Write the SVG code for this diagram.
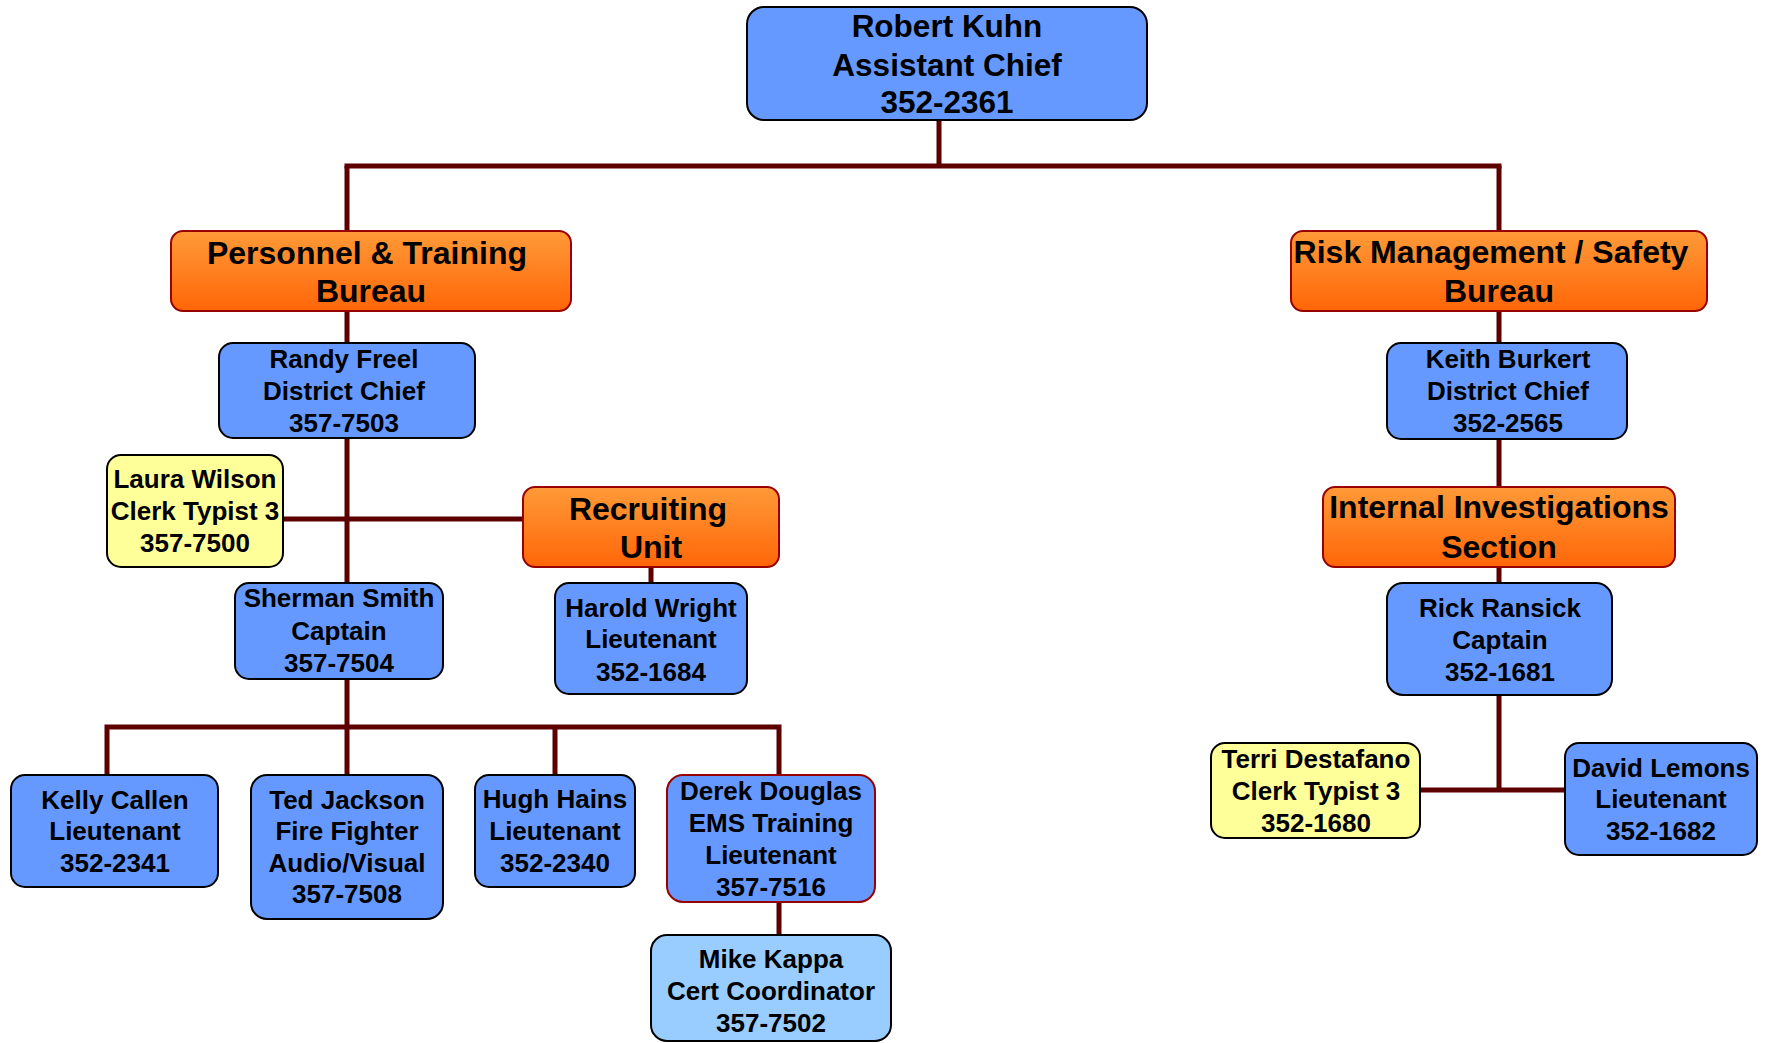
<svg xmlns="http://www.w3.org/2000/svg" width="1768" height="1043" viewBox="0 0 1768 1043">
<defs>
<linearGradient id="og" x1="0" y1="0" x2="0" y2="1">
<stop offset="0" stop-color="#ff9a38"/>
<stop offset="1" stop-color="#ff6608"/>
</linearGradient>
<style>
text{font-family:"Liberation Sans",Arial,sans-serif;font-weight:bold;fill:#000;text-anchor:middle}
.p{font-size:26px}
.b{font-size:32px}
.blue{fill:#6699ff;stroke:#000;stroke-width:2}
.yel{fill:#ffff99;stroke:#000;stroke-width:2}
.lb{fill:#99ccff;stroke:#000;stroke-width:2}
.red{fill:#6699ff;stroke:#990000;stroke-width:2}
.or{fill:url(#og);stroke:#990000;stroke-width:2}
.c{stroke:#5c0000;stroke-width:5;fill:none}
</style>
</defs>
<rect width="1768" height="1043" fill="#fff"/>
<g id="connectors" class="c">
<line x1="939" y1="120" x2="939" y2="166"/>
<line x1="344.5" y1="166" x2="1501.5" y2="166"/>
<line x1="347" y1="166" x2="347" y2="231"/>
<line x1="347" y1="311" x2="347" y2="343"/>
<line x1="347" y1="438" x2="347" y2="583"/>
<line x1="283" y1="519" x2="523" y2="519"/>
<line x1="651" y1="567" x2="651" y2="583"/>
<line x1="347" y1="679" x2="347" y2="727"/>
<polyline points="107,775 107,727 779,727 779,775"/>
<line x1="347" y1="727" x2="347" y2="775"/>
<line x1="555" y1="727" x2="555" y2="775"/>
<line x1="779" y1="902" x2="779" y2="935"/>
<line x1="1499" y1="166" x2="1499" y2="231"/>
<line x1="1499" y1="311" x2="1499" y2="343"/>
<line x1="1499" y1="439" x2="1499" y2="487"/>
<line x1="1499" y1="567" x2="1499" y2="583"/>
<line x1="1499" y1="695" x2="1499" y2="790"/>
<line x1="1420" y1="790" x2="1565" y2="790"/>
</g>
<g id="robert-kuhn">
<rect class="blue" x="747" y="7" width="400" height="113" rx="17"/>
<text style="font-size:31.5px"><tspan x="947" y="37">Robert Kuhn</tspan><tspan x="947" y="76">Assistant Chief</tspan><tspan x="947" y="113">352-2361</tspan></text>
</g>
<g id="personnel-training-bureau">
<rect class="or" x="171" y="231" width="400" height="80" rx="12"/>
<text class="b"><tspan x="367" y="264">Personnel &amp; Training</tspan><tspan x="371" y="302">Bureau</tspan></text>
</g>
<g id="risk-management-bureau">
<rect class="or" x="1291" y="231" width="416" height="80" rx="12"/>
<text class="b"><tspan x="1491" y="263">Risk Management / Safety</tspan><tspan x="1499" y="302">Bureau</tspan></text>
</g>
<g id="randy-freel">
<rect class="blue" x="219" y="343" width="256" height="95" rx="14"/>
<text class="p"><tspan x="344" y="368">Randy Freel</tspan><tspan x="344" y="400">District Chief</tspan><tspan x="344" y="432">357-7503</tspan></text>
</g>
<g id="keith-burkert">
<rect class="blue" x="1387" y="343" width="240" height="96" rx="14"/>
<text class="p"><tspan x="1508" y="368">Keith Burkert</tspan><tspan x="1508" y="400">District Chief</tspan><tspan x="1508" y="432">352-2565</tspan></text>
</g>
<g id="laura-wilson">
<rect class="yel" x="107" y="455" width="176" height="112" rx="14"/>
<text class="p"><tspan x="195" y="488">Laura Wilson</tspan><tspan x="195" y="520">Clerk Typist 3</tspan><tspan x="195" y="552">357-7500</tspan></text>
</g>
<g id="recruiting-unit">
<rect class="or" x="523" y="487" width="256" height="80" rx="12"/>
<text class="b"><tspan x="648" y="520">Recruiting</tspan><tspan x="651" y="558">Unit</tspan></text>
</g>
<g id="internal-investigations">
<rect class="or" x="1323" y="487" width="352" height="80" rx="12"/>
<text class="b"><tspan x="1499" y="518">Internal Investigations</tspan><tspan x="1499" y="558">Section</tspan></text>
</g>
<g id="sherman-smith">
<rect class="blue" x="235" y="583" width="208" height="96" rx="14"/>
<text class="p"><tspan x="339" y="607">Sherman Smith</tspan><tspan x="339" y="640">Captain</tspan><tspan x="339" y="672">357-7504</tspan></text>
</g>
<g id="harold-wright">
<rect class="blue" x="555" y="583" width="192" height="111" rx="14"/>
<text class="p"><tspan x="651" y="617">Harold Wright</tspan><tspan x="651" y="648">Lieutenant</tspan><tspan x="651" y="681">352-1684</tspan></text>
</g>
<g id="rick-ransick">
<rect class="blue" x="1387" y="583" width="225" height="112" rx="16"/>
<text class="p"><tspan x="1500" y="617">Rick Ransick</tspan><tspan x="1500" y="649">Captain</tspan><tspan x="1500" y="681">352-1681</tspan></text>
</g>
<g id="kelly-callen">
<rect class="blue" x="11" y="775" width="207" height="112" rx="14"/>
<text class="p"><tspan x="115" y="809">Kelly Callen</tspan><tspan x="115" y="840">Lieutenant</tspan><tspan x="115" y="872">352-2341</tspan></text>
</g>
<g id="ted-jackson">
<rect class="blue" x="251" y="775" width="192" height="144" rx="16"/>
<text class="p"><tspan x="347" y="809">Ted Jackson</tspan><tspan x="347" y="840">Fire Fighter</tspan><tspan x="347" y="872">Audio/Visual</tspan><tspan x="347" y="903">357-7508</tspan></text>
</g>
<g id="hugh-hains">
<rect class="blue" x="475" y="775" width="160" height="112" rx="14"/>
<text class="p"><tspan x="555" y="808">Hugh Hains</tspan><tspan x="555" y="840">Lieutenant</tspan><tspan x="555" y="872">352-2340</tspan></text>
</g>
<g id="derek-douglas">
<rect class="red" x="667" y="775" width="208" height="127" rx="16"/>
<text class="p"><tspan x="771" y="800">Derek Douglas</tspan><tspan x="771" y="832">EMS Training</tspan><tspan x="771" y="864">Lieutenant</tspan><tspan x="771" y="896">357-7516</tspan></text>
</g>
<g id="mike-kappa">
<rect class="lb" x="651" y="935" width="240" height="106" rx="16"/>
<text class="p"><tspan x="771" y="968">Mike Kappa</tspan><tspan x="771" y="1000">Cert Coordinator</tspan><tspan x="771" y="1032">357-7502</tspan></text>
</g>
<g id="terri-destafano">
<rect class="yel" x="1211" y="743" width="209" height="95" rx="14"/>
<text class="p"><tspan x="1316" y="768">Terri Destafano</tspan><tspan x="1316" y="800">Clerk Typist 3</tspan><tspan x="1316" y="832">352-1680</tspan></text>
</g>
<g id="david-lemons">
<rect class="blue" x="1565" y="743" width="192" height="112" rx="14"/>
<text class="p"><tspan x="1661" y="777">David Lemons</tspan><tspan x="1661" y="808">Lieutenant</tspan><tspan x="1661" y="840">352-1682</tspan></text>
</g>
</svg>
